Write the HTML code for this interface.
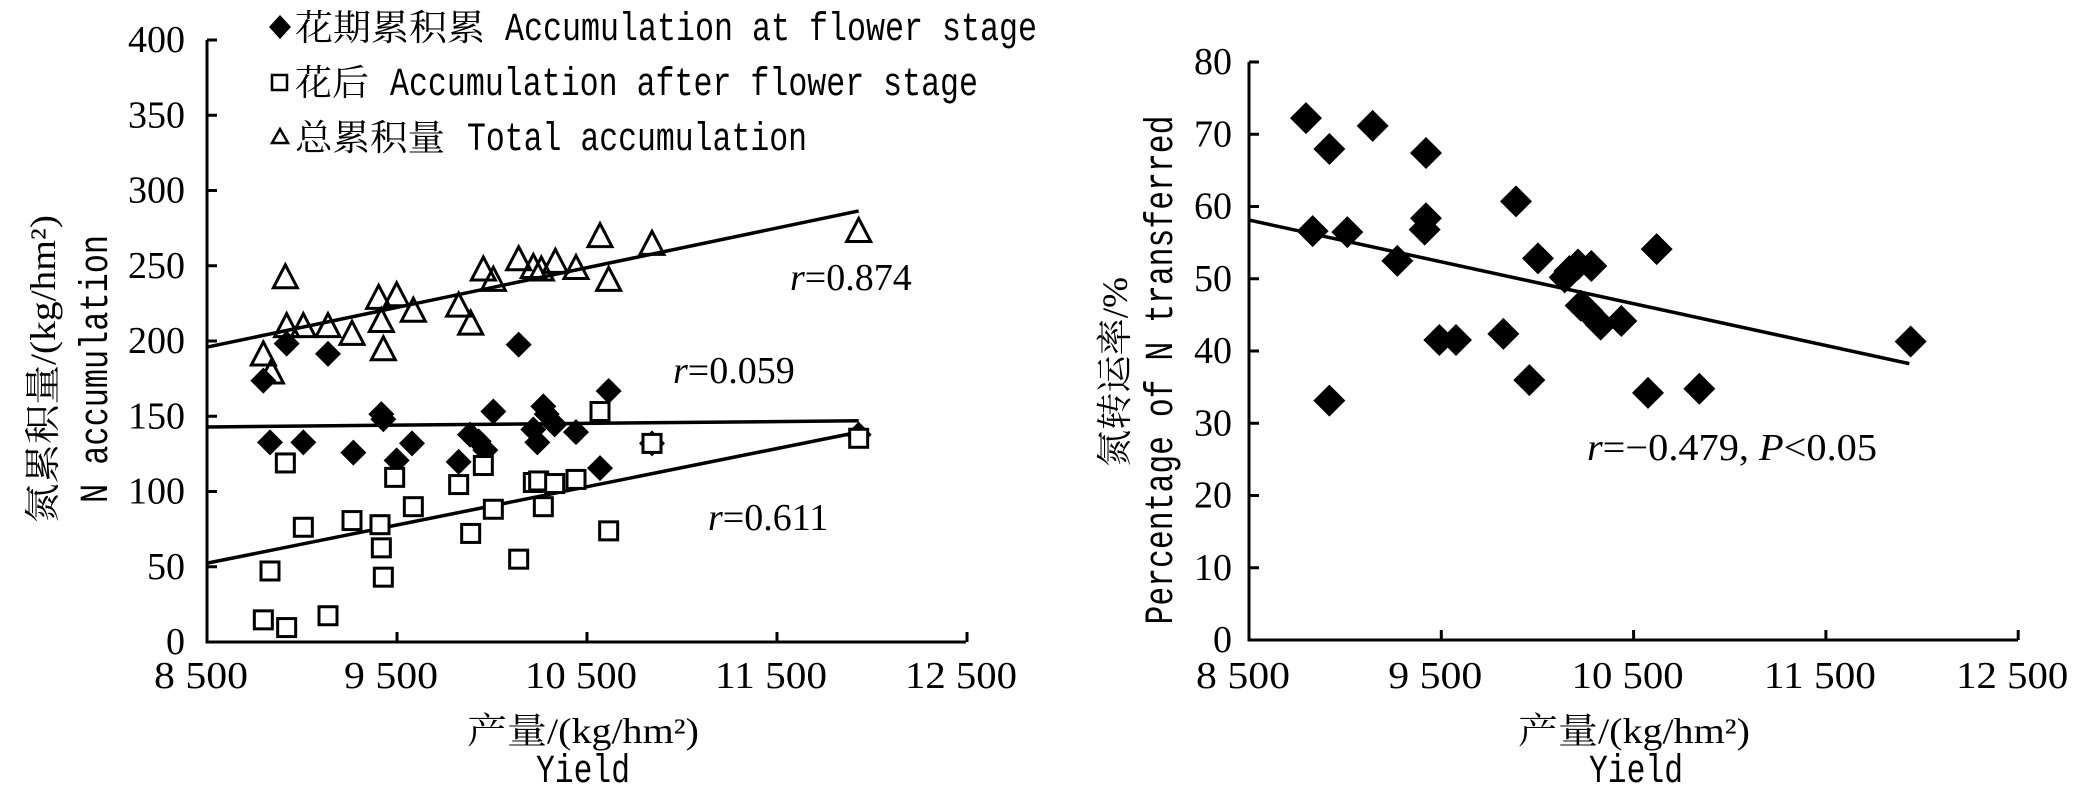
<!DOCTYPE html>
<html><head><meta charset="utf-8"><style>
html,body{margin:0;padding:0;background:#fff;}
svg{display:block}
.n{font-family:"Liberation Serif","Noto Serif CJK SC",serif;font-size:38px;fill:#000}
.m{font-family:"Liberation Mono","Noto Serif CJK SC",monospace;font-size:40px;fill:#000}
.c{font-family:"Liberation Serif","Noto Serif CJK SC",serif;font-size:36px;fill:#000}
</style></head><body>
<svg id="s" width="2092" height="806" viewBox="0 0 2092 806" xmlns="http://www.w3.org/2000/svg">
<rect width="2092" height="806" fill="#fff"/>
<g stroke="#000" stroke-width="3" fill="none">
<polyline points="207,40 207,642 966,642"/>
<polyline points="1249,62 1249,640 2018,640"/>
</g>
<g id="M"></g>
<polygon points="280,15 291,27 280,39 269,27" fill="#000"/>
<text x="295" y="40" class="c" textLength="190" lengthAdjust="spacingAndGlyphs">花期累积累</text>
<text x="505" y="40" class="m" textLength="532" lengthAdjust="spacingAndGlyphs">Accumulation at flower stage</text>
<rect x="272" y="75" width="15" height="15" fill="none" stroke="#000" stroke-width="2.5"/>
<text x="295" y="95" class="c" textLength="74" lengthAdjust="spacingAndGlyphs">花后</text>
<text x="390" y="95" class="m" textLength="588" lengthAdjust="spacingAndGlyphs">Accumulation after flower stage</text>
<polygon points="280,129 288,143 272,143" fill="none" stroke="#000" stroke-width="2.5"/>
<text x="295" y="150" class="c" textLength="150" lengthAdjust="spacingAndGlyphs">总累积量</text>
<text x="467" y="150" class="m" textLength="340" lengthAdjust="spacingAndGlyphs">Total accumulation</text>
<text x="790" y="290" class="n" font-size="40"><tspan font-style="italic">r</tspan>=0.874</text>
<text x="673" y="383" class="n" font-size="40"><tspan font-style="italic">r</tspan>=0.059</text>
<text x="708" y="530" class="n" font-size="40"><tspan font-style="italic">r</tspan>=0.611</text>
<text x="1587" y="460" class="n" font-size="40" textLength="290" lengthAdjust="spacingAndGlyphs"><tspan font-style="italic">r</tspan>=−0.479, <tspan font-style="italic">P</tspan>&lt;0.05</text>
<text x="583" y="743" class="c" text-anchor="middle" textLength="232" lengthAdjust="spacingAndGlyphs">产量/(kg/hm²)</text>
<text x="583" y="782" class="m" font-size="42" text-anchor="middle" textLength="94" lengthAdjust="spacingAndGlyphs">Yield</text>
<text x="1634" y="743" class="c" text-anchor="middle" textLength="232" lengthAdjust="spacingAndGlyphs">产量/(kg/hm²)</text>
<text x="1636" y="782" class="m" font-size="42" text-anchor="middle" textLength="94" lengthAdjust="spacingAndGlyphs">Yield</text>
<text transform="translate(55,369) rotate(-90)" class="c" text-anchor="middle" textLength="308" lengthAdjust="spacingAndGlyphs">氮累积量/(kg/hm²)</text>
<text transform="translate(107,369) rotate(-90)" class="m" font-size="42" text-anchor="middle" textLength="268" lengthAdjust="spacingAndGlyphs">N accumulation</text>
<text transform="translate(1127,372) rotate(-90)" class="c" text-anchor="middle" textLength="190" lengthAdjust="spacingAndGlyphs">氮转运率/%</text>
<text transform="translate(1172,370) rotate(-90)" class="m" font-size="42" text-anchor="middle" textLength="509" lengthAdjust="spacingAndGlyphs">Percentage of N transferred</text>
</svg>
<script>
var NS="http://www.w3.org/2000/svg",M=document.getElementById('M');
function el(t,a){var e=document.createElementNS(NS,t);for(var k in a)e.setAttribute(k,a[k]);M.appendChild(e);return e;}
function txt(x,y,t,anchor,len){var e=el('text',{x:x,y:y,'class':'n','text-anchor':anchor});if(len){e.setAttribute('textLength',len);e.setAttribute('lengthAdjust','spacingAndGlyphs');}e.textContent=t;}
for(var i=0;i<=8;i++){var y=642-i*75.25;el('line',{x1:207,y1:y,x2:217,y2:y,stroke:'#000','stroke-width':3});txt(185,y+12,String(i*50),'end');}
var xl=['8 500','9 500','10 500','11 500','12 500'];
for(var i=0;i<5;i++){var x=207+i*190;if(i>0)el('line',{x1:x,y1:642,x2:x,y2:632,stroke:'#000','stroke-width':3});txt(x-6,688,xl[i],'middle',i<2?94:112);}
for(var i=0;i<=8;i++){var y=640-i*72.25;el('line',{x1:1249,y1:y,x2:1259,y2:y,stroke:'#000','stroke-width':3});txt(1232,y+12,String(i*10),'end');}
for(var i=0;i<5;i++){var x=1249+i*192.3;if(i>0)el('line',{x1:x,y1:640,x2:x,y2:630,stroke:'#000','stroke-width':3});txt(x-6,688,xl[i],'middle',i<2?94:112);}
function L(z){return [z[0]/1.5,z[1]/1.944];}
function R(z){return [1046+z[0]/1.5,z[1]/1.947];}
function ln(a,b){el('line',{x1:a[0],y1:a[1],x2:b[0],y2:b[1],stroke:'#000','stroke-width':3.5});}
ln(L([310,675]),L([1288,410]));ln(L([310,830]),L([1288,818]));ln(L([310,1095]),L([1288,840]));
ln(R([303,428]),R([1295,708]));
function dia(p,r){el('polygon',{points:[p[0],p[1]-r,p[0]+r,p[1],p[0],p[1]+r,p[0]-r,p[1]].join(' '),fill:'#000'});}
function sq(p){el('rect',{x:p[0]-9,y:p[1]-9,width:18,height:18,fill:'#fff',stroke:'#000','stroke-width':3});}
function tri(p){el('polygon',{points:[p[0],p[1]-13,p[0]+12,p[1]+10,p[0]-12,p[1]+10].join(' '),fill:'none',stroke:'#000','stroke-width':3});}
var T=[[395,690],[407,725],[428,540],[430,635],[455,635],[492,635],[528,650],[568,580],[572,625],[575,680],[595,575],[620,605],[688,595],[706,630],[725,525],[740,545],[778,505],[800,520],[812,525],[833,510],[864,522],[900,460],[913,545],[978,475],[1288,450]];
var D=[[395,740],[405,860],[430,668],[455,860],[492,688],[530,880],[572,805],[575,815],[595,895],[618,862],[688,898],[705,845],[718,858],[728,875],[740,800],[778,670],[800,835],[806,860],[815,790],[820,805],[832,825],[864,840],[900,910],[913,760],[978,862],[1288,845]];
var S=[[395,1205],[405,1110],[430,1220],[428,900],[455,1025],[492,1197],[528,1012],[570,1020],[572,1065],[575,1122],[592,928],[620,985],[688,942],[706,1037],[725,905],[740,990],[778,1087],[800,938],[808,935],[815,985],[832,940],[864,932],[900,800],[913,1032],[978,862],[1288,852]];
D.forEach(function(z){dia(L(z),13);});
S.forEach(function(z){sq(L(z));});
T.forEach(function(z){tri(L(z));});
var RD=[[390,230],[425,290],[490,245],[570,298],[400,450],[452,452],[527,508],[570,425],[568,447],[705,392],[738,503],[778,540],[785,528],[798,515],[818,518],[802,595],[812,605],[832,632],[863,625],[590,662],[615,662],[686,650],[725,740],[425,780],[903,765],[980,757],[916,485],[1297,665]];
RD.forEach(function(z){dia(R(z),16);});
</script>
</body></html>
